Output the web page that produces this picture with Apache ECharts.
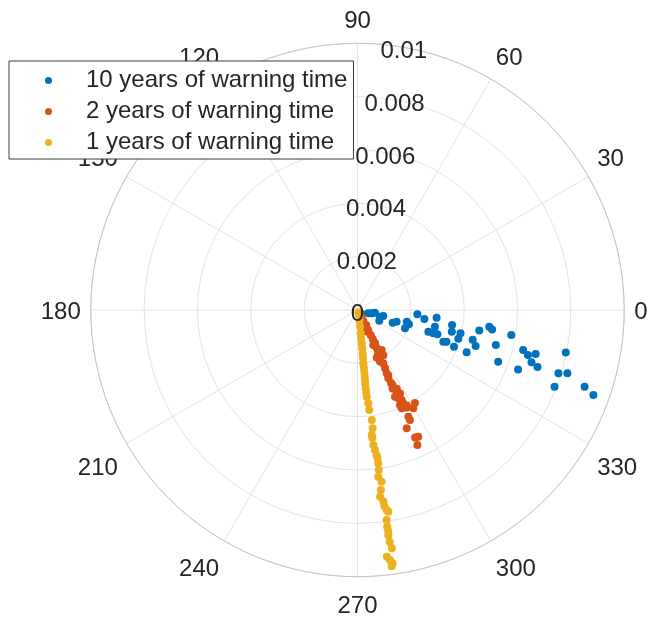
<!DOCTYPE html>
<html>
<head>
<meta charset="utf-8">
<script src="https://cdn.jsdelivr.net/npm/echarts@6/dist/echarts.min.js"></script>
<style>html,body{margin:0;padding:0;background:#fff}#c{width:648px;height:619px}</style>
</head>
<body>
<div id="c"></div>
<script>
// series names
const seriesNames = ['10 years of warning time', '2 years of warning time', '1 years of warning time'];
// angle tick labels (degrees)
const angleTicks = [0, 30, 60, 90, 120, 150, 180, 210, 240, 270, 300, 330];
// radius tick labels
const radiusTicks = [0, 0.002, 0.004, 0.006, 0.008, 0.01];

// data: [radius, angle(deg)]
const blue10 = [
  [0.00022,316],[0.00042,343],[0.00055,347],[0.00066,351],[0.00088,343.4],[0.00099,347],[0.00091,334],
  [0.0014,340.2],[0.00153,343.4],[0.0019,346.6],[0.002,344.5],[0.00191,338.9],[0.00225,355.9],
  [0.00253,352.3],[0.00298,354.4],[0.00297,347.8],[0.00278,343],[0.00297,342.9],[0.00313,343.1],
  [0.00359,351],[0.00363,347],[0.00396,347.3],[0.00393,344.1],[0.00343,339.7],[0.00354,340.4],
  [0.00387,339.2],[0.00439,338.8],[0.00446,345.5],[0.00463,343.1],[0.00463,350.4],[0.00498,352.8],
  [0.0051,351.8],[0.00535,345.8],[0.00562,339.8],[0.00584,350.8],[0.00639,346.4],[0.00661,345.2],
  [0.00688,346.1],[0.00681,343.3],[0.00708,342.4],[0.00642,339.7],[0.00797,348.5],[0.0079,342.5],
  [0.00822,343.2],[0.00793,338.7],[0.00899,341.3],[0.0094,340.2]
];
const red2 = [
  [0.00018,302],[0.0003,299.7],[0.00047,297.8],[0.00063,296.6],[0.00065,300],[0.00088,293],[0.00085,298.4],
  [0.00106,297.8],[0.00123,297.7],[0.0014,298],[0.00144,294.3],[0.0016,297],[0.00175,301.2],[0.00175,296],
  [0.00195,299.8],[0.00192,292],[0.00211,293.5],[0.00222,295.8],[0.00242,295.3],[0.00261,294.8],
  [0.0027,295.2],[0.00281,294.3],[0.00301,294.7],[0.0031,295],[0.00322,294.1],[0.0033,296.5],
  [0.0034,295.6],[0.00354,293.4],[0.00351,297],[0.00365,294.8],[0.0037,295.5],[0.00376,296.2],
  [0.0039,296.1],[0.0039,294.1],[0.00403,297.3],[0.0041,301.7],[0.0041,296.8],[0.00424,299.6],
  [0.00404,294.2],[0.00443,295.5],[0.00457,295.5],[0.0048,292.6],[0.00527,295.6],[0.00525,294.3],
  [0.00554,293.9]
];
const yellow1 = [
  [0.0001,290],[0.00026,285],[0.00042,280.3],[0.00063,278.5],[0.00088,277.8],[0.00106,277.1],[0.00126,277.2],
  [0.00144,277.1],[0.00164,276.8],[0.00181,276.5],[0.00201,276.2],[0.00217,276.3],[0.00233,276.3],
  [0.00249,276.2],[0.00264,276.1],[0.00279,276],[0.00295,276],[0.00311,276],[0.00327,276.1],
  [0.00352,276.6],[0.00378,276.7],[0.00416,277.4],[0.00447,277.3],[0.00472,276.5],[0.00483,276.6],
  [0.0051,276.7],[0.00529,277.1],[0.00549,277.5],[0.0056,277.7],[0.0058,277.7],[0.00605,277.6],
  [0.0063,277.1],[0.0065,278],[0.00681,277.4],[0.00705,276.9],[0.00725,277.7],[0.00742,277.8],
  [0.00758,278.3],[0.00765,278.7],[0.00795,277.9],[0.0082,277.8],[0.00837,277.9],[0.00852,277.8],
  [0.00878,277.9],[0.00903,278.2],[0.00932,276.8],[0.00945,277.4],[0.00959,277.9],[0.00969,277.6]
];

const colors = ['#0072BD', '#D95319', '#EDB120'];
const textColor = '#262626';
const FONT = 'Liberation Sans, Arial, Helvetica, sans-serif';
const FS = 24;
const center = [357.5, 310];
const R = 266.7;

function angleLabel(v) {
  if (angleTicks.indexOf(v) < 0 || v === 360) return '';
  if (v > 180 && v < 360) return '{b|' + v + '}';
  if (v === 0 || v === 180) return '{m|' + v + '}';
  return '{t|' + v + '}';
}
function radiusLabel(v) {
  const r = +(+v).toFixed(4);
  return radiusTicks.indexOf(r) >= 0 ? '{r|' + r + '}' : '';
}

const chart = echarts.init(document.getElementById('c'), null, {renderer: 'canvas'});
chart.setOption({
  animation: false,
  backgroundColor: '#ffffff',
  polar: [
    {center: center, radius: R},
    {center: center, radius: R}
  ],
  angleAxis: [
    {
      polarIndex: 0, type: 'value', min: 0, max: 360, interval: 30,
      startAngle: 0, clockwise: false,
      axisLine: {show: true, lineStyle: {color: '#c4c4c4', width: 1}},
      axisTick: {show: false},
      splitLine: {show: true, lineStyle: {color: '#e4e4e4', width: 1}},
      axisLabel: {
        show: true, margin: 10, color: textColor, fontSize: FS, fontFamily: FONT,
        formatter: angleLabel,
        rich: {
          t: {color: textColor, fontSize: FS, fontFamily: FONT},
          m: {color: textColor, fontSize: FS, fontFamily: FONT, padding: [4, 0, 0, 0]},
          b: {color: textColor, fontSize: FS, fontFamily: FONT, padding: [8, 0, 0, 0]}
        }
      }
    },
    {
      polarIndex: 1, type: 'value', min: 0, max: 360, startAngle: 80, clockwise: false,
      show: false
    }
  ],
  radiusAxis: [
    {
      polarIndex: 0, type: 'value', min: 0, max: 0.01, interval: 0.002,
      axisLine: {show: false}, axisTick: {show: false}, axisLabel: {show: false},
      splitLine: {show: true, lineStyle: {color: '#e4e4e4', width: 1}}
    },
    {
      polarIndex: 1, type: 'value', min: 0, max: 0.01, interval: 0.002, z: 10,
      axisLine: {show: false}, axisTick: {show: false}, splitLine: {show: false},
      axisLabel: {
        show: true, margin: 0, align: 'center', verticalAlign: 'middle',
        color: textColor, fontSize: FS, fontFamily: FONT,
        formatter: radiusLabel,
        rich: {
          r: {color: textColor, fontSize: FS, fontFamily: FONT, padding: [9, 0, 0, 0]}
        }
      }
    }
  ],
  legend: {
    orient: 'vertical', left: 9, top: 61,
    padding: [6, 6, 3, 36],
    itemGap: 4, itemWidth: 7, itemHeight: 7, icon: 'circle',
    backgroundColor: '#ffffff', borderColor: '#3a3a3a', borderWidth: 1, borderRadius: 0,
    textStyle: {color: textColor, fontSize: FS, fontFamily: FONT, lineHeight: 27, padding: [0, 0, 0, 29]},
    data: seriesNames,
    z: 20
  },
  series: [
    {name: seriesNames[0], type: 'scatter', coordinateSystem: 'polar', polarIndex: 0, data: blue10,
     symbol: 'circle', symbolSize: 8, itemStyle: {color: colors[0], opacity: 1}, z: 3},
    {name: seriesNames[1], type: 'scatter', coordinateSystem: 'polar', polarIndex: 0, data: red2,
     symbol: 'circle', symbolSize: 8, itemStyle: {color: colors[1], opacity: 1}, z: 4},
    {name: seriesNames[2], type: 'scatter', coordinateSystem: 'polar', polarIndex: 0, data: yellow1,
     symbol: 'circle', symbolSize: 8, itemStyle: {color: colors[2], opacity: 1}, z: 5}
  ]
});
</script>
</body>
</html>
